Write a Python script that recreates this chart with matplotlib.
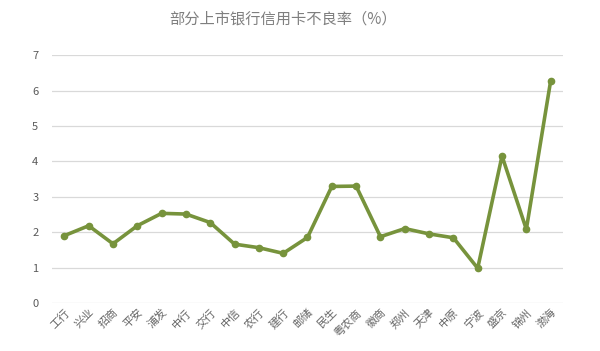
import matplotlib
matplotlib.use("Agg")
import matplotlib.pyplot as plt

plt.rcParams['font.family'] = ['Noto Sans CJK SC', 'DejaVu Sans']

banks = ['工行', '兴业', '招商', '平安', '浦发', '中行', '交行', '中信', '农行', '建行', '邮储',
         '民生', '粤农商', '徽商', '郑州', '天津', '中原', '宁波', '盛京', '锦州', '渤海']
rates = [1.90, 2.18, 1.67, 2.18, 2.53, 2.51, 2.27, 1.66, 1.56, 1.40, 1.85,
         3.29, 3.30, 1.87, 2.10, 1.95, 1.84, 0.98, 4.15, 2.08, 6.27]
yticks = [0, 1, 2, 3, 4, 5, 6, 7]

fig = plt.figure(figsize=(6.0, 3.51), dpi=100)
ax = fig.add_axes([0.087, 0.137, 0.851, 0.706])

x = list(range(len(banks)))
ax.plot(x, rates, color='#77933C', lw=2.6, marker='o', ms=4.5, solid_joinstyle='round')

ax.set_xlim(-0.5, len(banks) - 0.5)
ax.set_ylim(0, 7)
ax.set_yticks(yticks)
ax.set_yticklabels([str(v) for v in yticks], fontsize=8, color='#595959')
ax.set_xticks(x)
ax.set_xticklabels(banks, rotation=45, ha='right', va='top', rotation_mode='anchor',
                   fontsize=8, color='#666666')
ax.tick_params(axis='both', length=0)
ax.tick_params(axis='y', pad=10)
ax.tick_params(axis='x', pad=3)
ax.grid(axis='y', color='#D9D9D9', lw=0.9)
ax.set_axisbelow(True)
for s in ax.spines.values():
    s.set_visible(False)

fig.text(0.472, 0.945, '部分上市银行信用卡不良率（%）', ha='center', va='center',
         fontsize=11, color='#7F7F7F')

fig.savefig('out.png', dpi=100)
